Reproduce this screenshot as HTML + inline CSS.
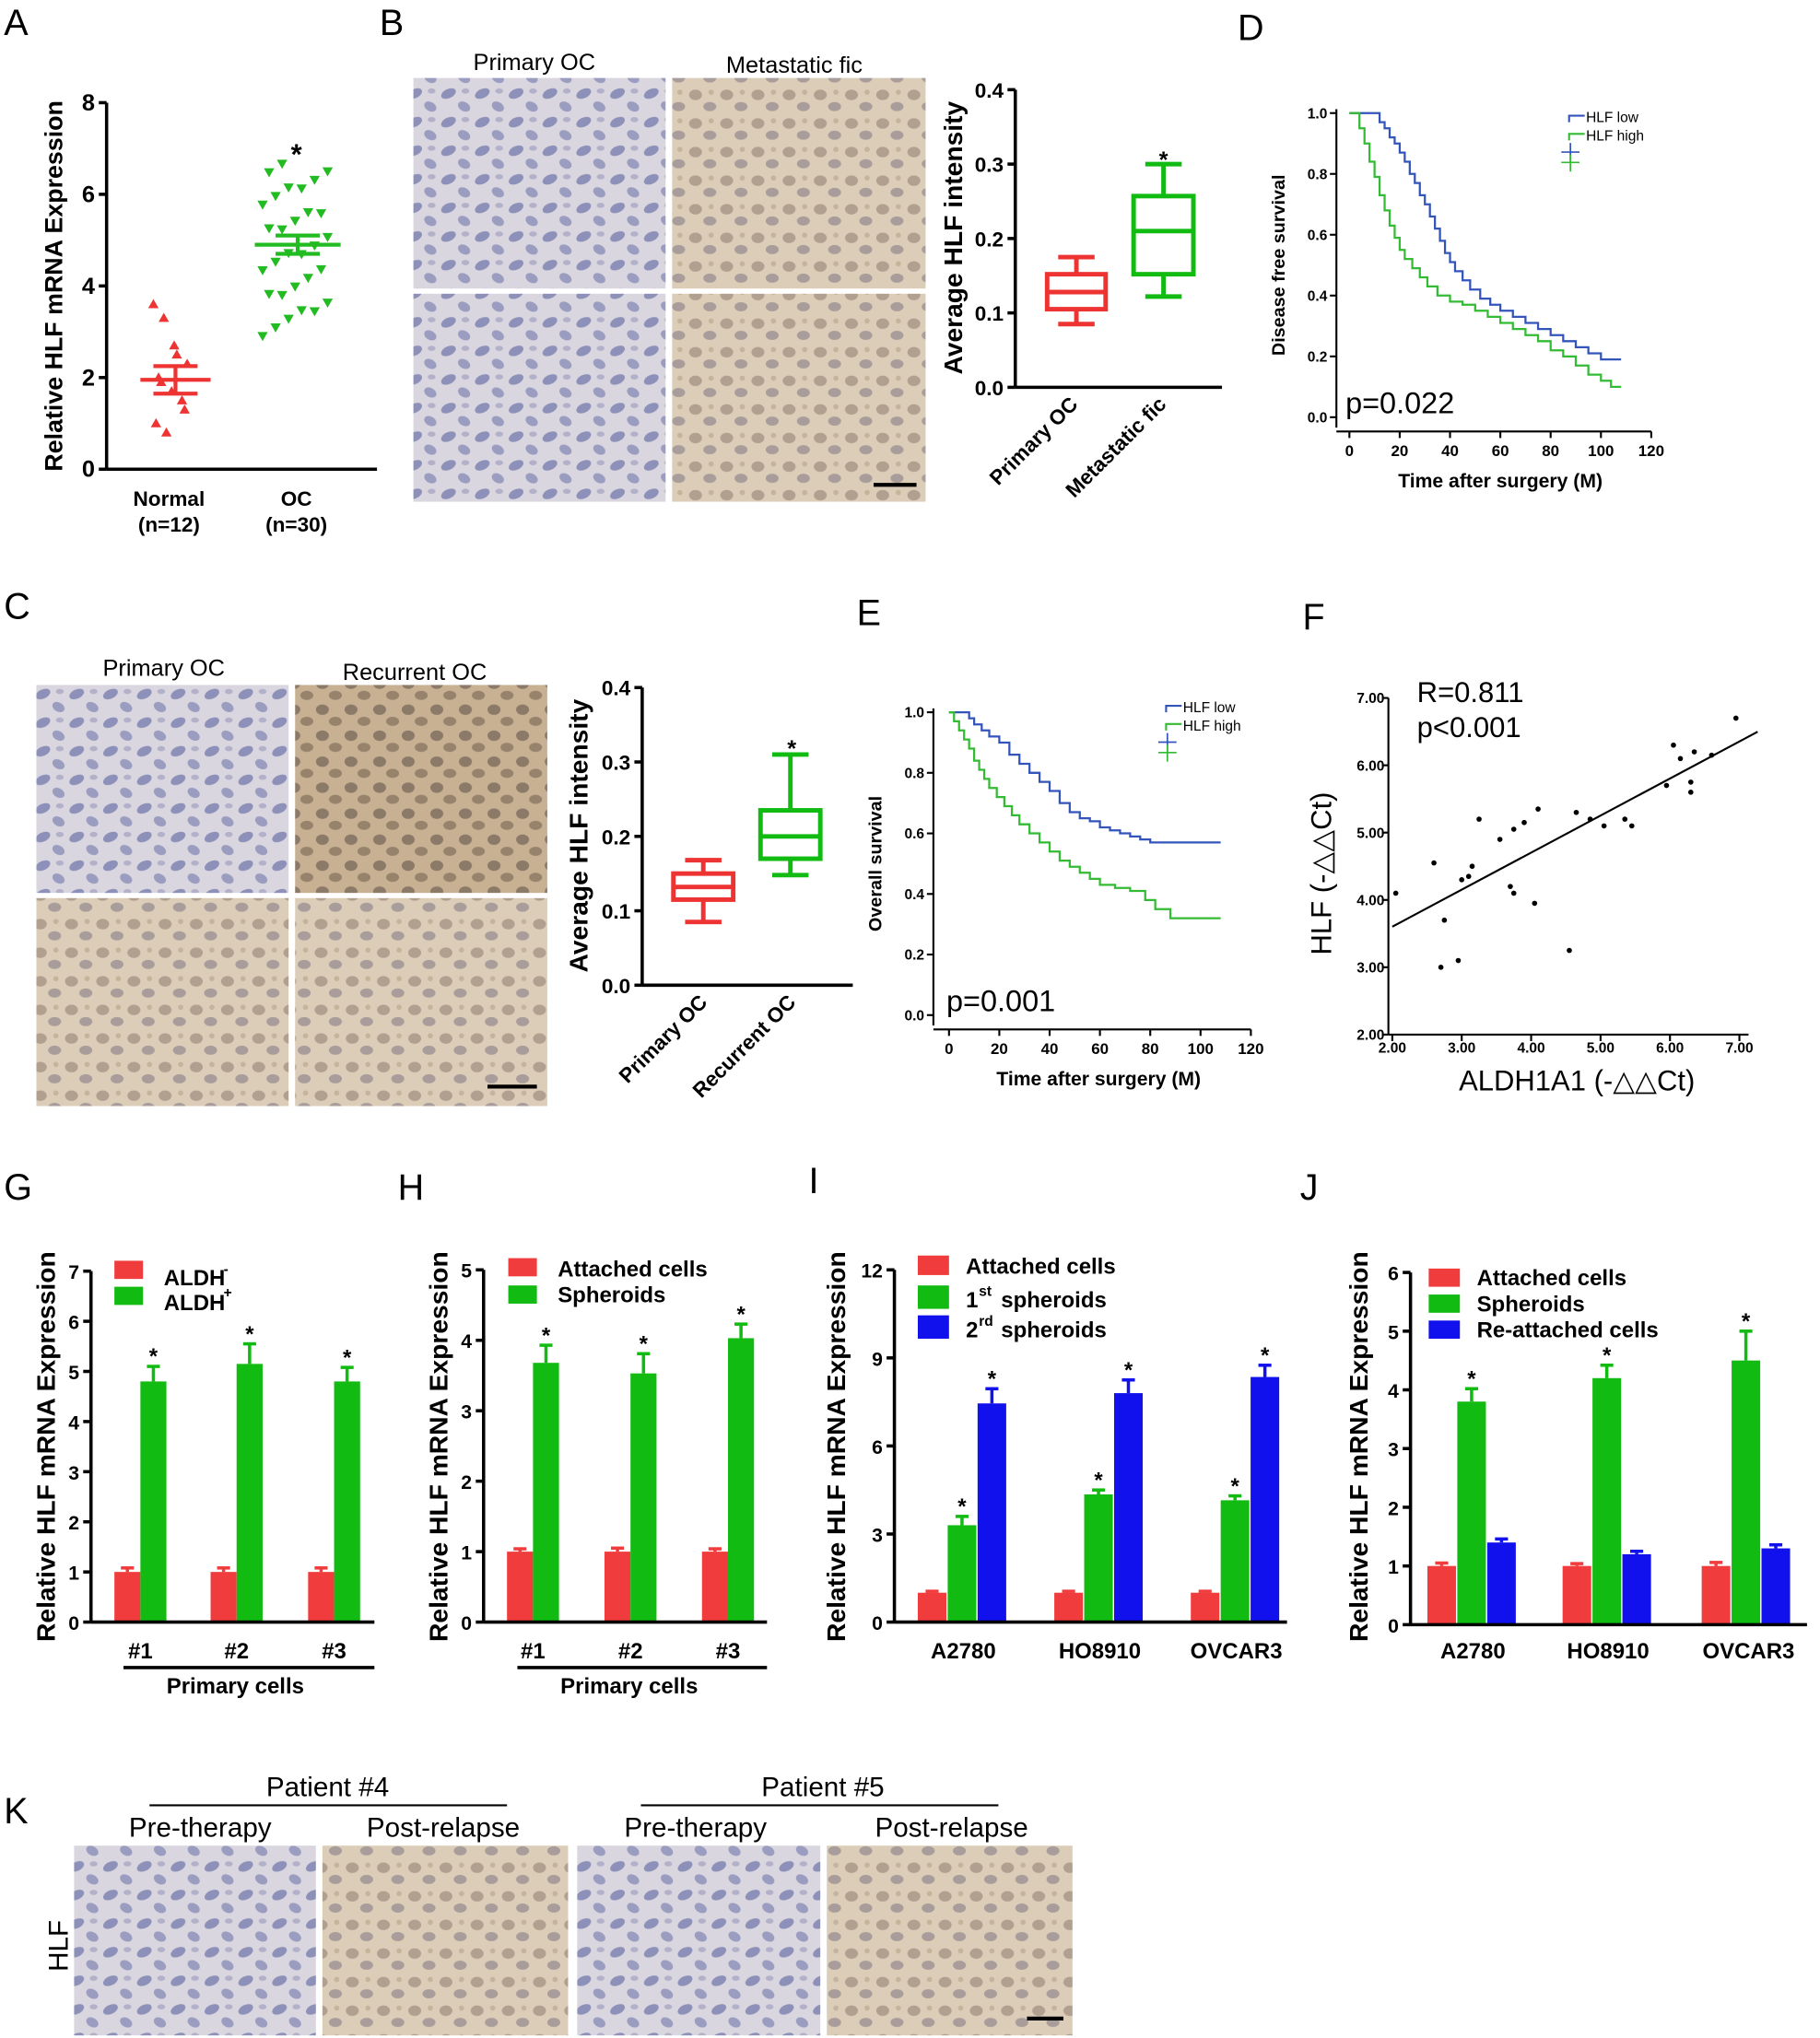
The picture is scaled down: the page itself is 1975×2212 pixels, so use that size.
<!DOCTYPE html>
<html><head><meta charset="utf-8"><style>
html,body{margin:0;padding:0;background:#fff}
svg{display:block}
text{font-family:"Liberation Sans",Arial,sans-serif}
</style></head><body>
<svg id="s" width="1975" height="2212" viewBox="0 0 1400 1568" preserveAspectRatio="none" xmlns="http://www.w3.org/2000/svg">
<defs>
<pattern id="pb" width="26" height="22" patternUnits="userSpaceOnUse">
<rect width="26" height="22" fill="#d9d6df"/>
<ellipse cx="7" cy="6" rx="6" ry="3.5" fill="#8d90b8" transform="rotate(-25 7 6)"/>
<ellipse cx="19" cy="16" rx="5" ry="3.5" fill="#9a9cc0" transform="rotate(30 19 16)"/>
<ellipse cx="20" cy="4" rx="3" ry="2" fill="#b3b1c9"/>
</pattern>
<pattern id="pr" width="24" height="22" patternUnits="userSpaceOnUse">
<rect width="24" height="22" fill="#dccdb8"/>
<ellipse cx="7" cy="7" rx="5" ry="4" fill="#b1a08f"/>
<ellipse cx="18" cy="16" rx="5" ry="3.5" fill="#a89d9a"/>
<circle cx="19" cy="5" r="2" fill="#c5b39b"/>
</pattern>
<pattern id="pd" width="22" height="20" patternUnits="userSpaceOnUse">
<rect width="22" height="20" fill="#c8b093"/>
<ellipse cx="6" cy="6" rx="5" ry="4" fill="#8c7a68"/>
<ellipse cx="16" cy="15" rx="5" ry="3.5" fill="#97826c"/>
</pattern>
</defs>
<g id="g" font-size="16" font-weight="bold"></g>
</svg>
<script>
var g=document.getElementById('g'),NS='http://www.w3.org/2000/svg';
function el(t,a,txt){var e=document.createElementNS(NS,t);for(var k in a)e.setAttribute(k,a[k]);if(txt!=null)e.textContent=txt;g.appendChild(e);return e;}
function line(x1,y1,x2,y2,c,w){el('line',{x1:x1,y1:y1,x2:x2,y2:y2,stroke:c||'#000','stroke-width':w||2.5});}
function txt(x,y,s,o){o=o||{};var a={x:x,y:y,'text-anchor':o.a||'middle','font-size':o.fs||16,'font-weight':o.fw||'bold',fill:o.c||'#000'};if(o.r)a.transform='rotate('+o.r+' '+x+' '+y+')';return el('text',a,s);}
function letter(x,y,s){txt(x,y,s,{a:'start',fs:28,fw:'normal'});}
function img(x,y,w,h,p){el('rect',{x:x,y:y,width:w,height:h,fill:'url(#'+p+')'});}
function yaxis(x,y0,y1,ticks,vmin,vmax,fs){line(x,y0,x,y1);ticks.forEach(function(t){var y=y1+(y0-y1)*(t[0]-vmin)/(vmax-vmin);line(x-6,y,x,y);txt(x-9,y+6,t[1],{a:'end',fs:fs||17});});}
function Y(v,top,bot,vmax){return bot-(bot-top)*v/vmax;}

letter(3,27,'A');letter(292,27,'B');letter(952,31,'D');letter(3,476,'C');letter(659,481,'E');letter(1002,484,'F');
letter(3,923,'G');letter(306,923,'H');letter(622,918,'I');letter(1000,923,'J');letter(3,1403,'K');

// Panel A
yaxis(82,79,361,[[0,'0'],[2,'2'],[4,'4'],[6,'6'],[8,'8']],0,8,18);
line(82,361,290,361);
txt(48,220,'Relative HLF mRNA Expression',{r:-90,fs:19});
txt(130,389,'Normal',{fs:16});txt(130,409,'(n=12)',{fs:16});
txt(228,389,'OC',{fs:16});txt(228,409,'(n=30)',{fs:16});
var nv=[3.6,3.3,2.7,2.5,2.3,2.0,1.9,1.7,1.5,1.3,1.0,0.8];
nv.forEach(function(v,i){var x=118+(i%5)*6+((i*7)%3)*2;var y=Y(v,79,361,8);el('path',{d:'M'+x+' '+(y-4)+'L'+(x+4)+' '+(y+3)+'L'+(x-4)+' '+(y+3)+'Z',fill:'#ee3333'});});
for(var i=0;i<30;i++){var v=3.0+ (i/29)*3.7 + ((i*37)%7-3)*0.03;var x=202+((i*13)%11)*5;var y=Y(v,79,361,8);el('path',{d:'M'+(x-4)+' '+(y-3)+'L'+(x+4)+' '+(y-3)+'L'+x+' '+(y+4)+'Z',fill:'#22bb22'});}
var ny=Y(1.95,79,361,8);line(108,ny,162,ny,'#ee3333',3);line(118,Y(2.25,79,361,8),152,Y(2.25,79,361,8),'#ee3333',3);line(118,Y(1.65,79,361,8),152,Y(1.65,79,361,8),'#ee3333',3);line(135,Y(2.25,79,361,8),135,Y(1.65,79,361,8),'#ee3333',3);
var oy=Y(4.9,79,361,8);line(196,oy,262,oy,'#22bb22',3);line(212,Y(5.1,79,361,8),246,Y(5.1,79,361,8),'#22bb22',3);line(212,Y(4.7,79,361,8),246,Y(4.7,79,361,8),'#22bb22',3);line(229,Y(5.1,79,361,8),229,Y(4.7,79,361,8),'#22bb22',3);
txt(228,126,'*',{fs:22});

// Panel B
img(318,60,194,162,'pb');img(517,60,195,162,'pr');img(318,226,194,160,'pb');img(517,226,195,160,'pr');
line(672,373,705,373,'#000',3);
txt(411,54,'Primary OC',{fw:'normal',fs:18});txt(611,56,'Metastatic fic',{fw:'normal',fs:18});
function box(cx,w,vals,c,y0,y1,vmax){var f=function(v){return Y(v,y0,y1,vmax)};var a=f(vals[0]),b=f(vals[1]),m=f(vals[2]),q=f(vals[3]),t=f(vals[4]);
el('rect',{x:cx-w/2,y:q,width:w,height:b-q,fill:'none',stroke:c,'stroke-width':3.5});line(cx-w/2,m,cx+w/2,m,c,3.5);line(cx,a,cx,b,c,3.5);line(cx,q,cx,t,c,3.5);line(cx-14,a,cx+14,a,c,3.5);line(cx-14,t,cx+14,t,c,3.5);}
yaxis(781,69,298,[[0,'0.0'],[0.1,'0.1'],[0.2,'0.2'],[0.3,'0.3'],[0.4,'0.4']],0,0.4,16);line(781,298,940,298);
txt(740,183,'Average HLF intensity',{r:-90,fs:20});
box(828,45,[0.085,0.105,0.128,0.152,0.175],'#ee3333',69,298,0.4);
box(895,46,[0.122,0.152,0.21,0.257,0.3],'#11bb11',69,298,0.4);
txt(895,129,'*',{fs:18});
txt(830,312,'Primary OC',{a:'end',r:-45,fs:16});txt(898,312,'Metastatic fic',{a:'end',r:-45,fs:16});

function km(ox,oy1,oy0,xw,pts,c){var d='',px=null;pts.forEach(function(p){var x=ox+p[0]*xw,y=oy0-(oy0-oy1)*p[1];if(px===null)d='M'+x+' '+y;else d+='H'+x+'V'+y;px=x;});el('path',{d:d,fill:'none',stroke:c,'stroke-width':1.6});}
function kmpanel(ax,ytop,ybot,x0,xw,xlab,ylab,p,ptxt,legx,legy,blue,green){
line(ax,ytop-3,ax,ybot+8,'#000',1.5);
[0,0.2,0.4,0.6,0.8,1.0].forEach(function(v){var y=ybot-(ybot-ytop)*v;line(ax-5,y,ax,y,'#000',1.5);txt(ax-7,y+4,v.toFixed(1),{a:'end',fs:11});});
var xb=ybot+11;line(ax,xb,x0+120*xw,xb,'#000',1.5);
for(var m=0;m<=120;m+=20){var x=x0+m*xw;line(x,xb,x,xb+5,'#000',1.5);txt(x,xb+19,String(m),{fs:12});}
txt((ax+x0+120*xw)/2+5,xb+43,xlab,{fs:15});
txt(ax-40,(ytop+ybot)/2,ylab,{r:-90,fs:14});
txt(ptxt[0],ptxt[1],p,{a:'start',fw:'normal',fs:23});
km(x0,ytop,ybot,xw,blue,'#3355bb');km(x0,ytop,ybot,xw,green,'#33bb33');
el('path',{d:'M'+legx+' '+(legy+5)+'V'+legy+'H'+(legx+12),stroke:'#3355bb','stroke-width':1.5,fill:'none'});txt(legx+13,legy+5,'HLF low',{a:'start',fw:'normal',fs:11});
el('path',{d:'M'+legx+' '+(legy+19)+'V'+(legy+14)+'H'+(legx+12),stroke:'#33bb33','stroke-width':1.5,fill:'none'});txt(legx+13,legy+19,'HLF high',{a:'start',fw:'normal',fs:11});
line(legx-6,legy+28,legx+8,legy+28,'#3355bb',1.2);line(legx+1,legy+21,legx+1,legy+35,'#3355bb',1.2);
line(legx-6,legy+36,legx+8,legy+36,'#33bb33',1.2);line(legx+1,legy+30,legx+1,legy+43,'#33bb33',1.2);
}
var dB=[[0,1],[10,1],[12,.97],[14,.95],[16,.92],[18,.9],[20,.87],[22,.84],[24,.8],[26,.77],[28,.73],[30,.7],[32,.66],[34,.62],[36,.58],[38,.54],[40,.51],[42,.48],[45,.45],[48,.42],[52,.39],[56,.37],[60,.35],[65,.33],[70,.31],[75,.29],[80,.27],[85,.25],[90,.23],[95,.21],[100,.19],[108,.19]];
var dG=[[0,1],[2,1],[4,.95],[6,.9],[8,.84],[10,.79],[12,.73],[14,.68],[16,.63],[18,.59],[20,.55],[22,.52],[25,.49],[28,.46],[31,.43],[35,.4],[40,.38],[45,.37],[50,.35],[55,.33],[60,.31],[65,.29],[70,.27],[75,.25],[80,.22],[85,.2],[90,.17],[95,.14],[100,.12],[104,.1],[108,.1]];
kmpanel(1028,87,321,1038,1.935,'Time after surgery (M)','Disease free survival','p=0.022',[1035,318],1207,89,dB,dG);
var eB=[[0,1],[5,1],[8,.98],[10,.96],[13,.94],[16,.92],[20,.9],[24,.86],[28,.83],[32,.8],[36,.77],[40,.74],[44,.7],[48,.67],[52,.65],[56,.64],[60,.62],[64,.61],[68,.6],[72,.59],[76,.58],[80,.57],[108,.57]];
var eG=[[0,1],[2,.97],[4,.94],[6,.91],[8,.88],[10,.84],[12,.81],[14,.78],[16,.75],[19,.72],[22,.69],[25,.66],[28,.63],[32,.6],[36,.57],[40,.54],[44,.51],[48,.49],[52,.47],[56,.45],[60,.43],[66,.42],[72,.41],[78,.38],[82,.35],[88,.32],[108,.32]];
kmpanel(718,548,781,730,1.935,'Time after surgery (M)','Overall survival','p=0.001',[728,778],897,543,eB,eG);

// Panel C
img(28,527,194,160,'pb');img(227,527,194,160,'pd');img(28,691,194,160,'pr');img(227,691,194,160,'pr');
line(375,836,413,836,'#000',3);
txt(126,520,'Primary OC',{fw:'normal',fs:18});txt(319,523,'Recurrent OC',{fw:'normal',fs:18});
yaxis(494,529,758,[[0,'0.0'],[0.1,'0.1'],[0.2,'0.2'],[0.3,'0.3'],[0.4,'0.4']],0,0.4,16);line(494,758,656,758);
txt(452,643,'Average HLF intensity',{r:-90,fs:20});
box(541,46,[0.085,0.115,0.132,0.15,0.168],'#ee3333',529,758,0.4);
box(608,46,[0.148,0.17,0.2,0.235,0.31],'#11bb11',529,758,0.4);
txt(609,582,'*',{fs:18});
txt(545,772,'Primary OC',{a:'end',r:-45,fs:16});txt(613,772,'Recurrent OC',{a:'end',r:-45,fs:16});

// Panel F
line(1068,537,1068,796,'#000',1.5);line(1068,796,1345,796,'#000',1.5);
[2,3,4,5,6,7].forEach(function(v){var y=796-(v-2)*51.8;line(1063,y,1068,y,'#000',1.5);txt(1065,y+4,v.toFixed(2),{a:'end',fs:11});var x=1071+(v-2)*53.4;line(x,796,x,801,'#000',1.5);txt(x,810,v.toFixed(2),{fs:11});});
txt(1090,540,'R=0.811',{a:'start',fw:'normal',fs:22});txt(1090,567,'p<0.001',{a:'start',fw:'normal',fs:22});
txt(1024,672,'HLF (-△△Ct)',{r:-90,fw:'normal',fs:22});txt(1213,839,'ALDH1A1 (-△△Ct)',{fw:'normal',fs:22});
line(1071,713,1352,563,'#000',1.5);
[[2.05,4.1],[2.6,4.55],[2.7,3.0],[2.75,3.7],[2.95,3.1],[3.0,4.3],[3.1,4.35],[3.15,4.5],[3.25,5.2],[3.55,4.9],[3.7,4.2],[3.75,4.1],[3.75,5.05],[3.9,5.15],[4.05,3.95],[4.1,5.35],[4.55,3.25],[4.65,5.3],[4.85,5.2],[5.05,5.1],[5.35,5.2],[5.45,5.1],[5.95,5.7],[6.05,6.3],[6.15,6.1],[6.3,5.6],[6.3,5.75],[6.35,6.2],[6.6,6.15],[6.95,6.7]].forEach(function(p){el('circle',{cx:1071+(p[0]-2)*53.4,cy:796-(p[1]-2)*51.8,r:2,fill:'#000'});});

function barpanel(ax,ytop,ybot,vmax,step,fs,groups,colors,w,offs){
var ticks=[];for(var v=0;v<=vmax+1e-9;v+=step)ticks.push([v,String(v)]);
yaxis(ax,ytop,ybot,ticks,0,vmax,fs);
groups.forEach(function(gr){gr.v.forEach(function(v,i){var x=gr.x+offs[i];var y=Y(v,ytop,ybot,vmax);var e=gr.e[i];var ey=Y(v+e,ytop,ybot,vmax);
line(x+w/2,y,x+w/2,ey,colors[i],2.5);line(x+w/2-5,ey,x+w/2+5,ey,colors[i],2.5);
el('rect',{x:x,y:y,width:w,height:ybot-y,fill:colors[i]});
if(gr.s&&gr.s[i])txt(x+w/2,ey-2,'*',{fs:17});});});
}
var RC='#f03c3c',GC='#11bb11',BC='#1111ee';
barpanel(70,978,1248,7,1,15,[{x:108,v:[1,4.8],e:[0.08,0.3],s:[0,1]},{x:182,v:[1,5.15],e:[0.08,0.4],s:[0,1]},{x:257,v:[1,4.8],e:[0.08,0.28],s:[0,1]}],[RC,GC],20,[-20,0]);
line(70,1248,288,1248);
['#1','#2','#3'].forEach(function(s,i){txt([108,182,257][i],1276,s,{fs:17});});
line(95,1283,288,1283);txt(181,1303,'Primary cells',{fs:17});
txt(42,1113,'Relative HLF mRNA Expression',{r:-90,fs:20});
el('rect',{x:88,y:970,width:22,height:14,fill:RC});el('rect',{x:88,y:990,width:22,height:14,fill:GC});
txt(126,989,'ALDH',{a:'start',fs:17});txt(172,980,'-',{a:'start',fs:11});txt(126,1008,'ALDH',{a:'start',fs:17});txt(172,998,'+',{a:'start',fs:11});
barpanel(372,977,1248,5,1,15,[{x:410,v:[1,3.68],e:[0.04,0.25],s:[0,1]},{x:485,v:[1,3.53],e:[0.05,0.28],s:[0,1]},{x:560,v:[1,4.03],e:[0.04,0.2],s:[0,1]}],[RC,GC],20,[-20,0]);
line(372,1248,590,1248);
['#1','#2','#3'].forEach(function(s,i){txt([410,485,560][i],1276,s,{fs:17});});
line(398,1283,590,1283);txt(484,1303,'Primary cells',{fs:17});
txt(344,1113,'Relative HLF mRNA Expression',{r:-90,fs:20});
el('rect',{x:391,y:968,width:22,height:14,fill:RC});el('rect',{x:391,y:989,width:22,height:14,fill:GC});
txt(429,982,'Attached cells',{a:'start',fs:17});txt(429,1002,'Spheroids',{a:'start',fs:17});
barpanel(688,977,1248,12,3,15,[{x:729,v:[1,3.3,7.45],e:[0.05,0.3,0.5],s:[0,1,1]},{x:834,v:[1,4.35,7.8],e:[0.05,0.15,0.45],s:[0,1,1]},{x:939,v:[1,4.15,8.35],e:[0.05,0.15,0.4],s:[0,1,1]}],[RC,GC,BC],22,[-23,0,23]);
line(688,1248,990,1248);
['A2780','HO8910','OVCAR3'].forEach(function(s,i){txt([741,846,951][i],1276,s,{fs:17});});
txt(650,1113,'Relative HLF mRNA Expression',{r:-90,fs:20});
el('rect',{x:706,y:966,width:24,height:15,fill:RC});el('rect',{x:706,y:989,width:24,height:18,fill:GC});el('rect',{x:706,y:1012,width:24,height:18,fill:BC});
txt(743,980,'Attached cells',{a:'start',fs:17});
txt(743,1006,'1',{a:'start',fs:17});txt(753,997,'st',{a:'start',fs:11});txt(770,1006,'spheroids',{a:'start',fs:17});
txt(743,1029,'2',{a:'start',fs:17});txt(753,1020,'rd',{a:'start',fs:11});txt(770,1029,'spheroids',{a:'start',fs:17});
barpanel(1085,979,1250,6,1,15,[{x:1121,v:[1,3.8,1.4],e:[0.05,0.22,0.06],s:[0,1,0]},{x:1225,v:[1,4.2,1.2],e:[0.04,0.22,0.05],s:[0,1,0]},{x:1332,v:[1,4.5,1.3],e:[0.06,0.5,0.06],s:[0,1,0]}],[RC,GC,BC],22,[-23,0,23]);
line(1085,1250,1390,1250);
['A2780','HO8910','OVCAR3'].forEach(function(s,i){txt([1133,1237,1345][i],1276,s,{fs:17});});
txt(1052,1113,'Relative HLF mRNA Expression',{r:-90,fs:20});
el('rect',{x:1099,y:976,width:24,height:14,fill:RC});el('rect',{x:1099,y:996,width:24,height:14,fill:GC});el('rect',{x:1099,y:1016,width:24,height:14,fill:BC});
txt(1136,989,'Attached cells',{a:'start',fs:17});txt(1136,1009,'Spheroids',{a:'start',fs:17});txt(1136,1029,'Re-attached cells',{a:'start',fs:17});

img(57,1420,186,146,'pb');img(248,1420,189,146,'pr');img(444,1420,187,146,'pb');img(636,1420,189,146,'pr');
line(790,1553,818,1553,'#000',3);
txt(252,1382,'Patient #4',{fw:'normal',fs:21});line(115,1389,390,1389,'#000',1.5);
txt(633,1382,'Patient #5',{fw:'normal',fs:21});line(493,1389,768,1389,'#000',1.5);
txt(154,1413,'Pre-therapy',{fw:'normal',fs:21});txt(341,1413,'Post-relapse',{fw:'normal',fs:21});
txt(535,1413,'Pre-therapy',{fw:'normal',fs:21});txt(732,1413,'Post-relapse',{fw:'normal',fs:21});
txt(52,1497,'HLF',{r:-90,fw:'normal',fs:21});
</script>
</body></html>
